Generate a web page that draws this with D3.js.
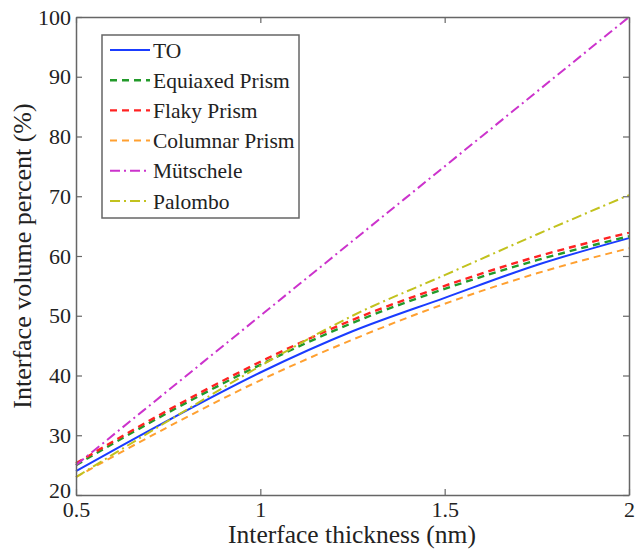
<!DOCTYPE html>
<html>
<head>
<meta charset="utf-8">
<script src="https://cdn.jsdelivr.net/npm/d3@7"></script>
<style>
  html, body { margin: 0; padding: 0; background: #fff; }
  svg { display: block; }
  svg text { font-family: "Liberation Serif", "Times New Roman", Times, "DejaVu Serif", serif !important; fill: #222; }
</style>
</head>
<body>
<svg id="chart" width="636" height="552"></svg>
<script>
// ---- data ----
const thickness = [0.5, 0.75, 1.0, 1.25, 1.5, 1.75, 2.0];
const seriesNames = ["TO", "Equiaxed Prism", "Flaky Prism", "Columnar Prism", "Mütschele", "Palombo"];
const toValues        = [24.0, 32.5, 40.5, 47.4, 53.0, 58.5, 63.0];
const equiaxedValues  = [25.0, 33.8, 41.8, 48.8, 54.5, 59.3, 63.3];
const flakyValues     = [25.3, 34.2, 42.3, 49.3, 55.0, 59.9, 63.9];
const columnarValues  = [23.0, 31.4, 39.2, 46.0, 52.0, 57.1, 61.3];
const mutscheleValues = [25.0, 37.5, 50.0, 62.5, 75.0, 87.5, 100.0];
const palomboValues   = [23.0, 32.4, 41.6, 50.0, 56.8, 63.6, 70.2];
const xTicks = [0.5, 1, 1.5, 2];
const yTicks = [20, 30, 40, 50, 60, 70, 80, 90, 100];
const xLabel = "Interface thickness (nm)";
const yLabel = "Interface volume percent (%)";

const seriesValues = [toValues, equiaxedValues, flakyValues, columnarValues, mutscheleValues, palomboValues];
const styles = [
  { color: "#1a3cff", dash: null, width: 2 },
  { color: "#229a2a", dash: "7,5", width: 2.4 },
  { color: "#ff2222", dash: "7,5", width: 2.4 },
  { color: "#ffa030", dash: "7,5", width: 2 },
  { color: "#cc33cc", dash: "10,4,2,4", width: 2 },
  { color: "#c2c21e", dash: "10,4,2,4", width: 2 }
];

// ---- layout ----
const svg = d3.select("#chart");
const L = 76, R = 629, T = 17, B = 495;
const x = d3.scaleLinear().domain([0.5, 2]).range([L, R]);
const y = d3.scaleLinear().domain([20, 100]).range([B, T]);

// lines
const line = d3.line().x(d => x(d[0])).y(d => y(d[1])).curve(d3.curveMonotoneX);
seriesValues.forEach((vals, i) => {
  const pts = thickness.map((t, j) => [t, vals[j]]);
  const s = styles[i];
  svg.append("path")
    .datum(pts)
    .attr("d", line)
    .attr("fill", "none")
    .attr("stroke", s.color)
    .attr("stroke-width", s.width)
    .attr("stroke-dasharray", s.dash);
});

// frame and axes
const axisColor = "#666";
const tickLen = 6;
const fmt = d => String(d);
const gB = svg.append("g").attr("transform", `translate(0,${B})`)
  .call(d3.axisBottom(x).tickValues(xTicks).tickSizeInner(-tickLen).tickSizeOuter(0).tickPadding(6).tickFormat(fmt));
const gT = svg.append("g").attr("transform", `translate(0,${T})`)
  .call(d3.axisTop(x).tickValues(xTicks).tickSizeInner(-tickLen).tickSizeOuter(0).tickFormat(""));
const gL = svg.append("g").attr("transform", `translate(${L},0)`)
  .call(d3.axisLeft(y).tickValues(yTicks).tickSizeInner(-tickLen).tickSizeOuter(0).tickPadding(5));
const gR = svg.append("g").attr("transform", `translate(${R},0)`)
  .call(d3.axisRight(y).tickValues(yTicks).tickSizeInner(-tickLen).tickSizeOuter(0).tickFormat(""));
[gB, gT, gL, gR].forEach(g => {
  g.attr("font-family", null);
  g.select(".domain").attr("stroke", axisColor).attr("stroke-width", 1.5);
  g.selectAll(".tick line").attr("stroke", axisColor).attr("stroke-width", 1.2);
  g.selectAll("text").style("font-size", "22px").attr("fill", "#222");
});
gB.selectAll(".tick text").attr("dy", "0.71em");
gL.selectAll(".tick text").filter(d => d === 20).attr("dy", "0.1em");

// axis titles
svg.append("text").attr("x", 352).attr("y", 543).attr("text-anchor", "middle")
  .style("font-size", "25.5px").text(xLabel);
svg.append("text").attr("transform", `translate(31,${(T + B) / 2}) rotate(-90)`).attr("text-anchor", "middle")
  .style("font-size", "26px").text(yLabel);

// legend
const lg = svg.append("g");
const lx = 102, ly = 35, lw = 197, lh = 183;
lg.append("rect").attr("x", lx).attr("y", ly).attr("width", lw).attr("height", lh)
  .attr("fill", "#fff").attr("stroke", axisColor).attr("stroke-width", 1.5);
seriesNames.forEach((name, i) => {
  const yy = ly + 15 + i * 30.2;
  const s = styles[i];
  lg.append("line").attr("x1", lx + 8).attr("x2", lx + 48).attr("y1", yy).attr("y2", yy)
    .attr("stroke", s.color).attr("stroke-width", s.width).attr("stroke-dasharray", s.dash);
  lg.append("text").attr("x", lx + 51).attr("y", yy).attr("dy", "0.35em")
    .style("font-size", "21.5px").text(name);
});
</script>
</body>
</html>
